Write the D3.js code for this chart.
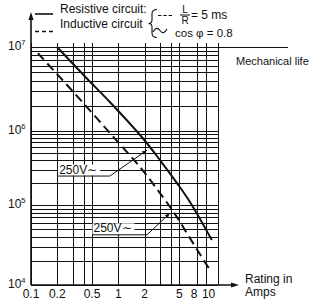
<!DOCTYPE html>
<html>
<head>
<meta charset="utf-8">
<script src="https://cdn.jsdelivr.net/npm/d3@7"></script>
<style>
    body { margin: 0; background: #fff; }
    svg { display: block; font-family: "Liberation Sans", Arial, Helvetica, sans-serif; }
    .grid line { stroke: #111; stroke-width: 1; shape-rendering: crispEdges; }
    text { fill: #111; }
</style>
</head>
<body>
<svg id="chart" width="311" height="301"></svg>
<script>
// Values (amps vs. operations)
const xTickValues = [0.1, 0.2, 0.5, 1, 2, 5, 8, 10];
const xTickLabels = ['0.1', '0.2', '0.5', '1', '2', '5', '8', '10'];
const xGridValues = [0.1, 0.2, 0.3, 0.4, 0.5, 1, 2, 3, 4, 5, 8, 10, 14];
const yDecades = [1e4, 1e5, 1e6, 1e7];
const yExponents = ['4', '5', '6', '7'];

const resistiveAmps = [0.2, 0.42, 0.8, 1.92, 3.0, 4.7, 6.62, 11.8];
const resistiveOps = [1e7, 4.42e6, 2.22e6, 7.92e5, 4.05e5, 1.98e5, 1.10e5, 3.65e4];
const inductiveAmps = [0.12, 0.32, 0.8, 1.77, 3.0, 4.46, 6.6, 11.2];
const inductiveOps = [8.5e6, 2.77e6, 9.4e5, 3.26e5, 1.45e5, 7.7e4, 3.87e4, 1.54e4];

// "250V~" call-outs: text start, elbow, arrow tip (data units)
const callouts = [
    { text: '250V∼', x0: 0.21, elbowX: 0.8, lineY: 2.5e5, tipX: 2.13, tipY: 5.5e5 },
    { text: '250V∼', x0: 0.52, elbowX: 2.13, lineY: 4.3e4, tipX: 3.9, tipY: 7.9e4 }
];

const svg = d3.select('#chart');

const x = d3.scaleLog().domain([0.1, 10]).range([31, 205.6]);
const y = d3.scaleLog().domain(yDecades).range([285, 205, 131, 47.3]);

const xRight = x(14);
const yTop = y(1e7);

// Grid
const grid = svg.append('g').attr('class', 'grid');

const hValues = [];
yDecades.slice(0, 3).forEach(d => {
    for (let m = 2; m <= 9; m++) hValues.push(d * m);
});
yDecades.forEach(d => hValues.push(d));

grid.selectAll('line.h')
    .data(hValues)
    .join('line')
    .attr('class', 'h')
    .attr('x1', x(0.1))
    .attr('x2', d => d === 1e7 ? 288 : xRight)
    .attr('y1', d => Math.round(y(d)) + 0.5)
    .attr('y2', d => Math.round(y(d)) + 0.5);

grid.selectAll('line.v')
    .data(xGridValues)
    .join('line')
    .attr('class', 'v')
    .attr('x1', d => Math.round(x(d)) + 0.5)
    .attr('x2', d => Math.round(x(d)) + 0.5)
    .attr('y1', yTop - 4)
    .attr('y2', y(1e4));

// Axes with arrows
svg.append('line')
    .attr('x1', x(0.1)).attr('x2', x(0.1))
    .attr('y1', y(1e4)).attr('y2', 18)
    .attr('stroke', '#111').attr('stroke-width', 1.6);
svg.append('path')
    .attr('d', `M${x(0.1)},12 L${x(0.1) - 2.6},20 L${x(0.1) + 2.6},20 Z`)
    .attr('fill', '#111');

svg.append('line')
    .attr('x1', x(0.1)).attr('x2', 233)
    .attr('y1', y(1e4)).attr('y2', y(1e4))
    .attr('stroke', '#111').attr('stroke-width', 1.6);
svg.append('path')
    .attr('d', `M239,${y(1e4)} L231,${y(1e4) - 2.6} L231,${y(1e4) + 2.6} Z`)
    .attr('fill', '#111');

// Tick labels
const xLabelShift = { 8: -3, 10: 3 };
svg.selectAll('text.xt')
    .data(xTickValues)
    .join('text')
    .attr('class', 'xt')
    .attr('x', d => x(d) + (xLabelShift[d] || 0))
    .attr('y', 298)
    .attr('text-anchor', 'middle')
    .attr('font-size', 12)
    .text((d, i) => xTickLabels[i]);

const yt = svg.selectAll('text.yt')
    .data(yDecades)
    .join('text')
    .attr('class', 'yt')
    .attr('x', 8)
    .attr('y', d => y(d) + 3)
    .attr('font-size', 12);
yt.append('tspan').text('10');
yt.append('tspan')
    .attr('font-size', 7.5)
    .attr('dy', -5)
    .text((d, i) => yExponents[i]);

// Curves
const line = d3.line()
    .x(d => x(d[0]))
    .y(d => y(d[1]))
    .curve(d3.curveCatmullRom.alpha(0.5));

svg.append('path')
    .datum(resistiveAmps.map((a, i) => [a, resistiveOps[i]]))
    .attr('d', line)
    .attr('fill', 'none')
    .attr('stroke', '#111')
    .attr('stroke-width', 2);

svg.append('path')
    .datum(inductiveAmps.map((a, i) => [a, inductiveOps[i]]))
    .attr('d', line)
    .attr('fill', 'none')
    .attr('stroke', '#111')
    .attr('stroke-width', 2)
    .attr('stroke-dasharray', '9,5');

// Call-outs
callouts.forEach(c => {
    const ly = y(c.lineY);
    svg.append('rect')
        .attr('x', x(c.x0) - 1).attr('y', ly - 11)
        .attr('width', 42).attr('height', 11)
        .attr('fill', '#fff');
    svg.append('text')
        .attr('x', x(c.x0))
        .attr('y', ly - 2)
        .attr('font-size', 12)
        .text(c.text);
    const tx = x(c.tipX), ty = y(c.tipY);
    const ang = Math.atan2(ty - ly, tx - x(c.elbowX));
    svg.append('path')
        .attr('d', `M${x(c.x0) - 1},${ly + 0.5} H${x(c.elbowX)} L${tx},${ty}`)
        .attr('fill', 'none')
        .attr('stroke', '#111')
        .attr('stroke-width', 1);
    const len = 5, w = 2;
    const bx = tx - len * Math.cos(ang), by = ty - len * Math.sin(ang);
    svg.append('path')
        .attr('d', `M${tx},${ty} L${bx + w * Math.sin(ang)},${by - w * Math.cos(ang)} L${bx - w * Math.sin(ang)},${by + w * Math.cos(ang)} Z`)
        .attr('fill', '#111');
});

// Legend
const lg = svg.append('g');
lg.append('line')
    .attr('x1', 35).attr('x2', 53).attr('y1', 14).attr('y2', 14)
    .attr('stroke', '#111').attr('stroke-width', 1.6);
lg.append('line')
    .attr('x1', 35).attr('x2', 53).attr('y1', 31.5).attr('y2', 31.5)
    .attr('stroke', '#111').attr('stroke-width', 1.6)
    .attr('stroke-dasharray', '4,3');
lg.append('text').attr('x', 60).attr('y', 13).attr('font-size', 12).text('Resistive circuit:');
lg.append('text').attr('x', 60).attr('y', 28).attr('font-size', 12).text('Inductive circuit');

// Brace
lg.append('path')
    .attr('d', 'M157,9.5 Q152,9.5 152,14 V20 Q152,23.5 148.5,23.5 Q152,23.5 152,27 V33 Q152,37.5 157,37.5')
    .attr('fill', 'none').attr('stroke', '#111').attr('stroke-width', 1.1);
lg.append('line')
    .attr('x1', 158).attr('x2', 172).attr('y1', 15.5).attr('y2', 15.5)
    .attr('stroke', '#111').attr('stroke-width', 1)
    .attr('stroke-dasharray', '3.5,1.8');
lg.append('path')
    .attr('d', 'M153,32 Q156.5,25.5 160,30.5 T167,29')
    .attr('fill', 'none').attr('stroke', '#111').attr('stroke-width', 1.1);
lg.append('text').attr('x', 185).attr('y', 12.5).attr('font-size', 10).attr('text-anchor', 'middle').text('L');
lg.append('line')
    .attr('x1', 180).attr('x2', 190).attr('y1', 15).attr('y2', 15)
    .attr('stroke', '#111').attr('stroke-width', 1);
lg.append('text').attr('x', 185).attr('y', 24).attr('font-size', 10).attr('text-anchor', 'middle').text('R');
lg.append('text').attr('x', 191).attr('y', 18.5).attr('font-size', 12).text('= 5 ms');
lg.append('text').attr('x', 175).attr('y', 37).attr('font-size', 11.5).text('cos φ = 0.8');

svg.append('text').attr('x', 236).attr('y', 65).attr('font-size', 11).text('Mechanical life');
svg.append('text').attr('x', 245).attr('y', 283).attr('font-size', 12).text('Rating in');
svg.append('text').attr('x', 245).attr('y', 296).attr('font-size', 12).text('Amps');
</script>
</body>
</html>
